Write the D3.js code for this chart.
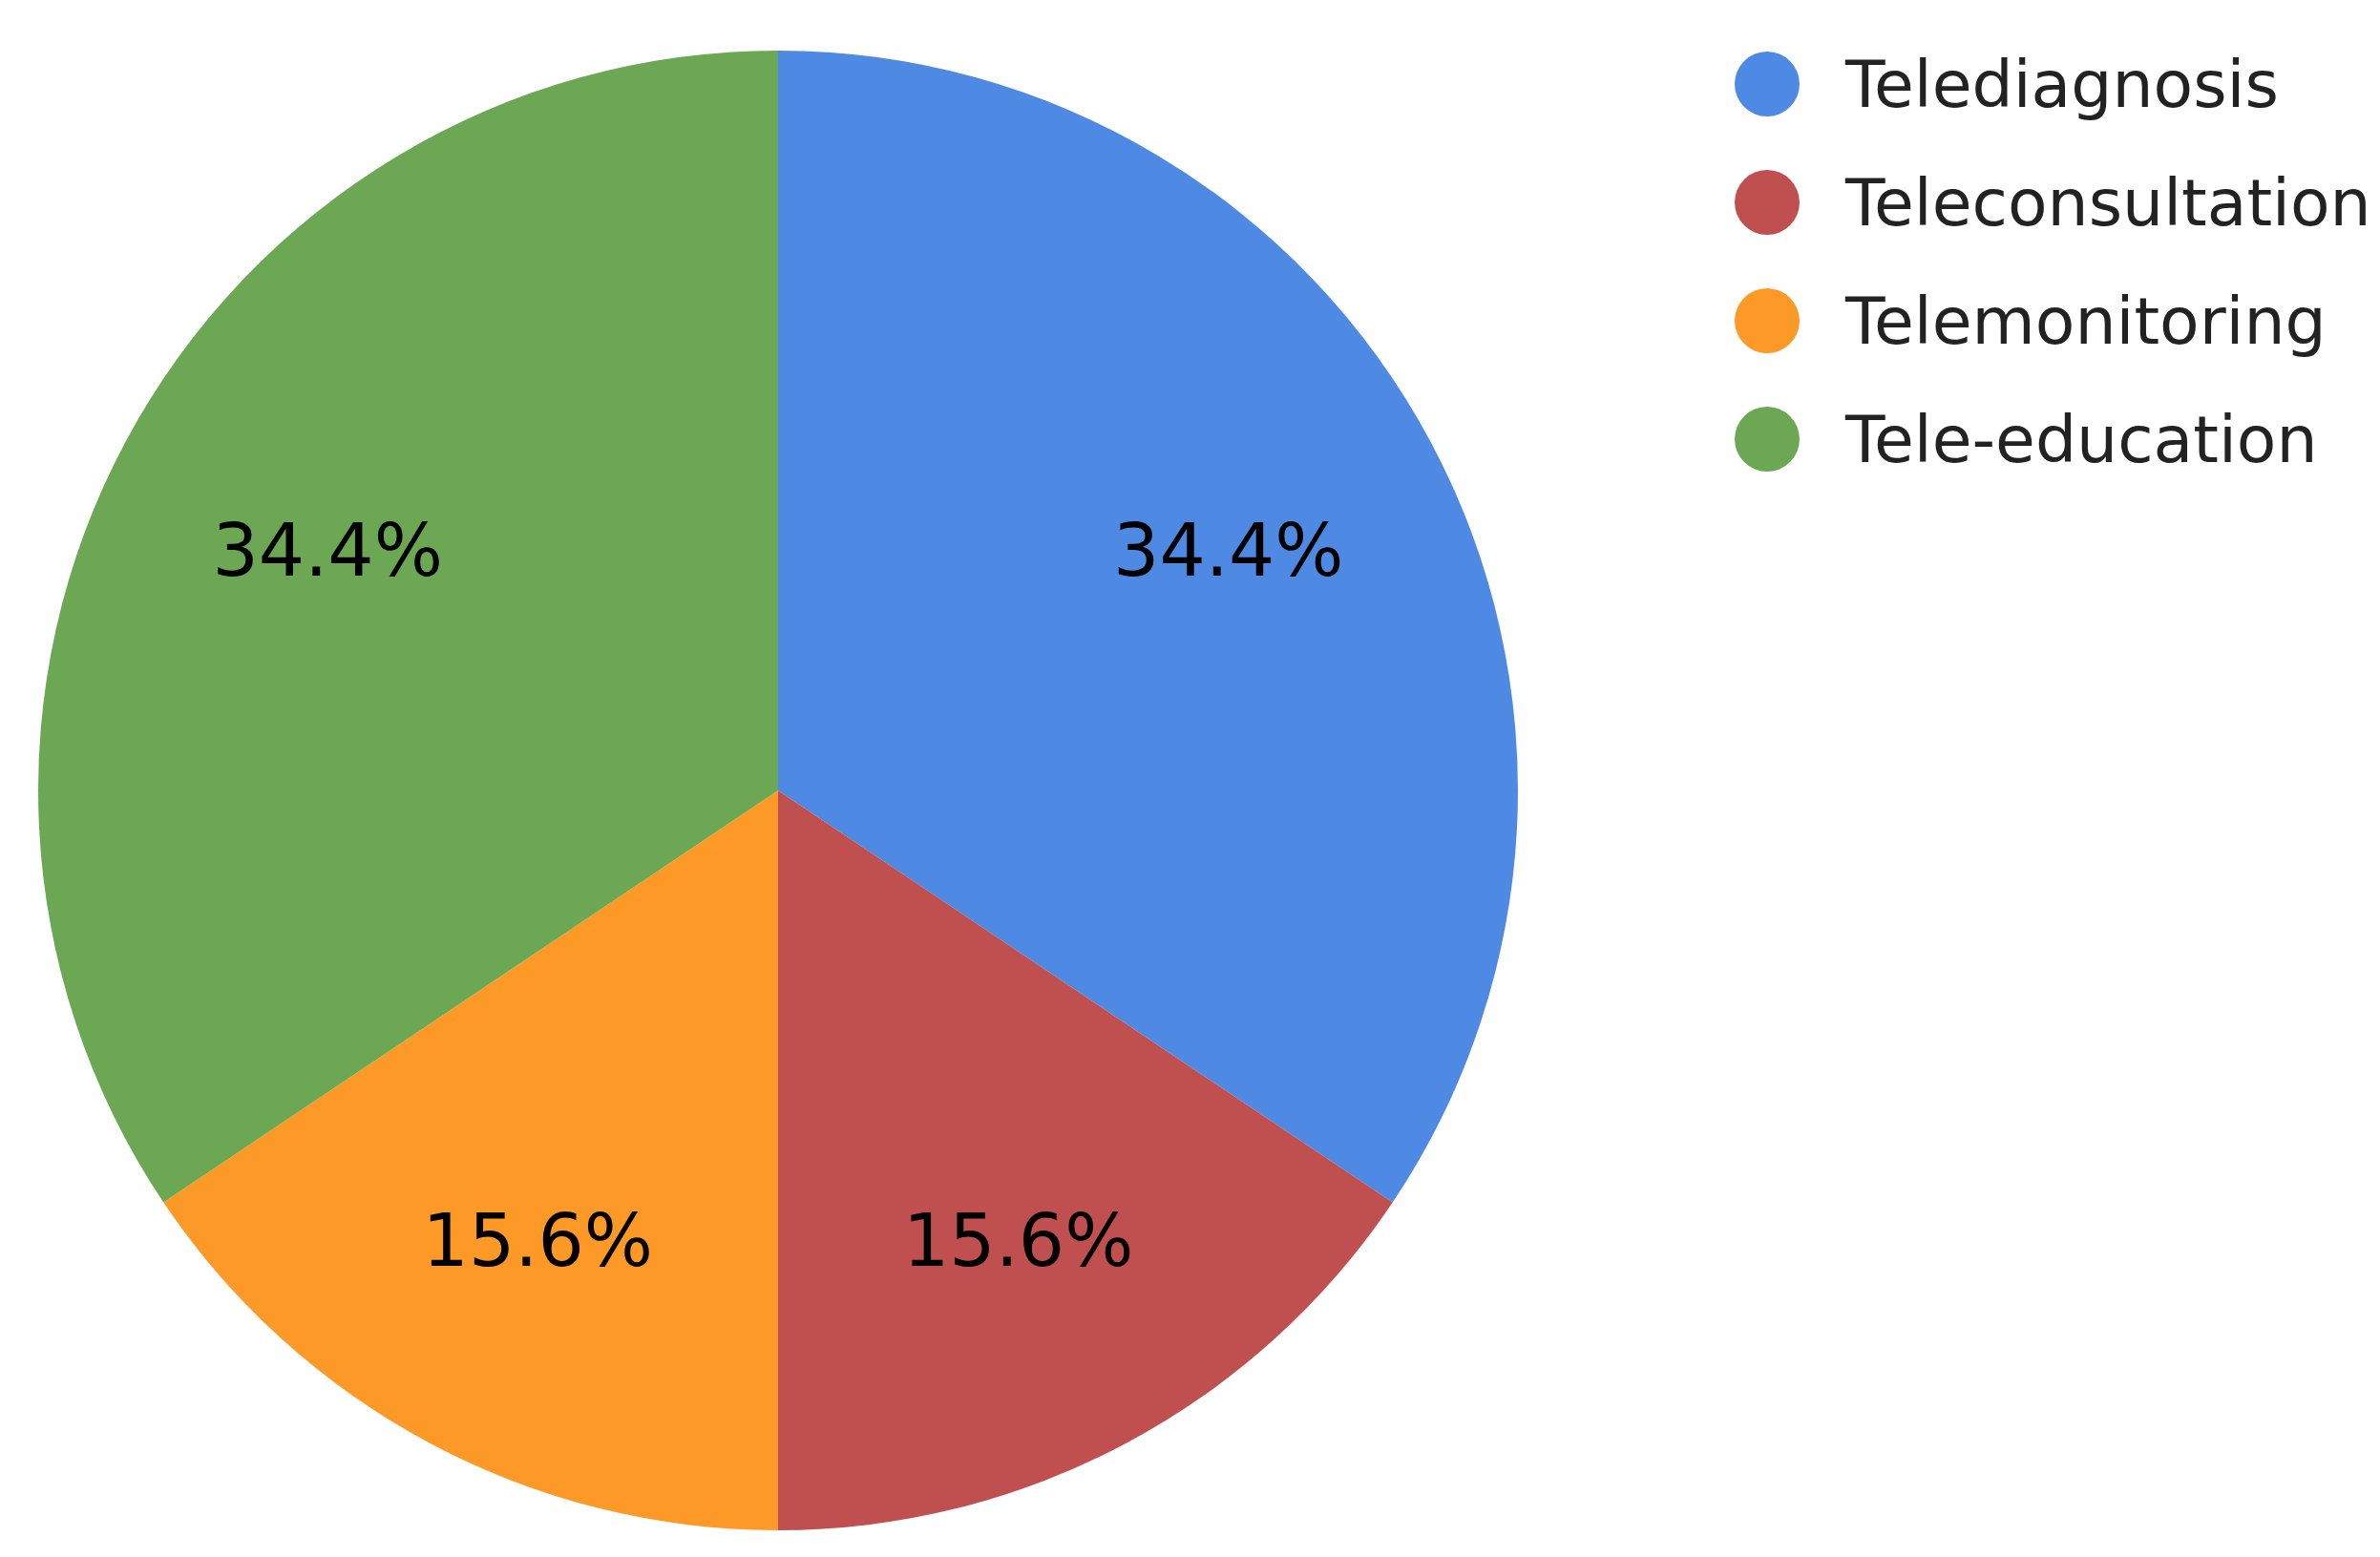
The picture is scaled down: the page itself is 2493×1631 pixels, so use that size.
<!DOCTYPE html>
<html>
<head>
<meta charset="utf-8">
<script src="https://cdn.jsdelivr.net/npm/d3@7"></script>
<style>
body { margin: 0; background: #fff; }
text { font-family: "DejaVu Sans", Verdana, sans-serif; }
</style>
</head>
<body>
<svg id="chart" width="2493" height="1631"></svg>
<script>
var categories = ['Telediagnosis', 'Teleconsultation', 'Telemonitoring', 'Tele-education'];
var values = [34.4, 15.6, 15.6, 34.4];
var colors = ['#4e89e3', '#c0504f', '#fc9927', '#6ca754'];

var svg = d3.select('#chart');
var cx = 815, cy = 828, r = 775;

var pie = d3.pie().sort(null).value((d) => d.value);
var data = categories.map((c, i) => ({ name: c, value: values[i], color: colors[i] }));
var arcs = pie(data);

var arc = d3.arc().innerRadius(0).outerRadius(r);
var labelArc = d3.arc().innerRadius(r * 0.69).outerRadius(r * 0.69);

var g = svg.append('g').attr('transform', 'translate(' + cx + ',' + cy + ')');
g.selectAll('path')
    .data(arcs)
    .enter()
    .append('path')
    .attr('d', arc)
    .attr('fill', (d) => d.data.color);

g.selectAll('text')
    .data(arcs)
    .enter()
    .append('text')
    .attr('transform', (d) => 'translate(' + labelArc.centroid(d) + ')')
    .attr('text-anchor', 'middle')
    .attr('dy', '0.35em')
    .attr('font-size', 76)
    .attr('fill', '#000')
    .text((d) => d.data.value.toFixed(1) + '%');

var legend = svg.append('g');
var item = legend.selectAll('g')
    .data(data)
    .enter()
    .append('g')
    .attr('transform', (d, i) => 'translate(1851,' + (88 + i * 124) + ')');
item.append('circle').attr('r', 34).attr('fill', (d) => d.color);
item.append('text')
    .attr('x', 82)
    .attr('dy', '0.35em')
    .attr('font-size', 68)
    .attr('fill', '#222')
    .text((d) => d.name);
</script>
</body>
</html>
